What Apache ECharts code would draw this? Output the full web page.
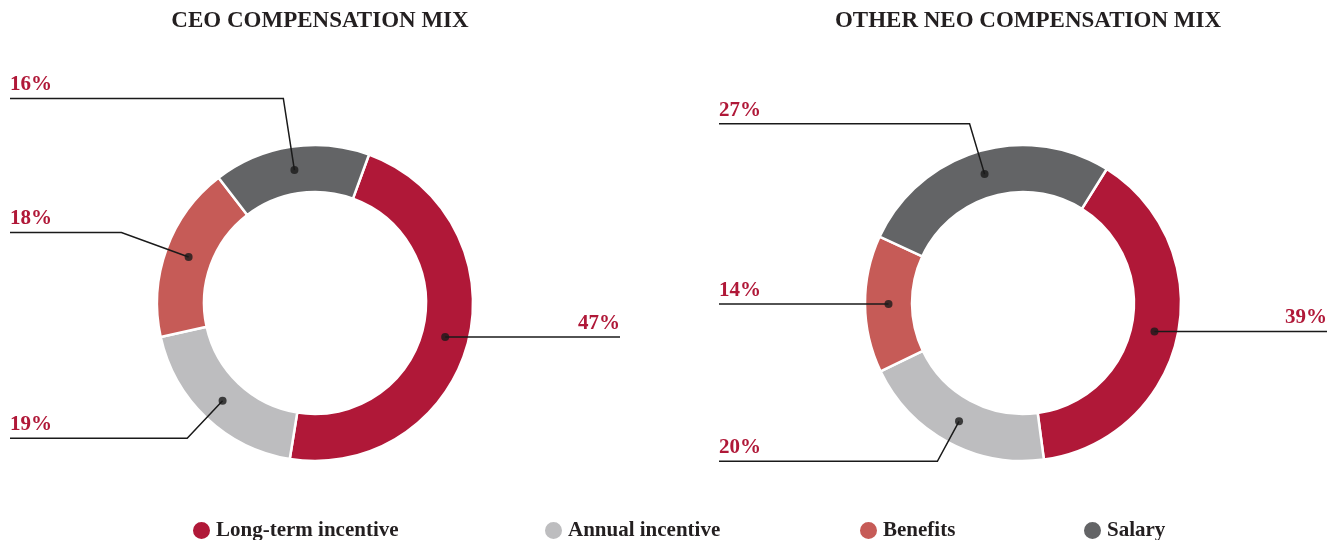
<!DOCTYPE html>
<html>
<head>
<meta charset="utf-8">
<script src="https://cdn.jsdelivr.net/npm/echarts@6/dist/echarts.min.js"></script>
<style>
html, body { margin: 0; padding: 0; background: #fff; }
#main { width: 1327px; height: 540px; }
</style>
</head>
<body>
<div id="main"></div>
<script>
// compensation mix, percent of total
const categories = ["Long-term incentive", "Annual incentive", "Benefits", "Salary"]
const ceoMix = [47, 19, 18, 16]
const neoMix = [39, 20, 14, 27]
const titles = ["CEO COMPENSATION MIX", "OTHER NEO COMPENSATION MIX"]

const colors = ["#b01838", "#bdbdbf", "#c65b57", "#636466"]
const red = "#b01838"
const serif = "'Liberation Serif', 'DejaVu Serif', serif"

// one box per donut, labels hug the box edges; leader elbow length per slice
const boxes = [
    { left: 0, width: 630, edge: 10, startAngle: 70, elbows: [30, 28, 48, 49] },
    { left: 719, width: 608, edge: 0, startAngle: 58, elbows: [30, 22, 30, 29] }
]
const legendLefts = [186, 538, 853, 1077]
const cy = 303, r0 = 111, r1 = 158
const rDot = (r0 + r1) / 2

function centerX(b) { return b.left + b.width / 2 }

// middle of each slice as [radius, percent of the ring]
function midPoints(values) {
    let total = values.reduce((a, b) => a + b, 0)
    let acc = 0
    return values.map(v => {
        let mid = (acc + v / 2) / total * 100
        acc += v
        return [rDot, mid]
    })
}

// start the leader line at the dot, run it under the label to the edge
function makeLayout(b) {
    let cx = centerX(b)
    return function (params) {
        let pts = params.labelLinePoints
        if (!pts) return {}
        let p0 = pts[0], p1 = pts[1]
        let dx = p0[0] - cx, dy = p0[1] - cy
        let len = Math.sqrt(dx * dx + dy * dy)
        let start = [cx + dx / len * rDot, cy + dy / len * rDot]
        let isLeft = p1[0] < cx
        let endX = isLeft ? b.left + b.edge : b.left + b.width - b.edge
        let line
        if (Math.abs(dy / len) < 0.3) {
            // nearly sideways: straight line from the dot
            p1 = [start[0], start[1]]
            line = [start, [endX, start[1]]]
        } else {
            line = [start, p1, [endX, p1[1]]]
        }
        return {
            x: endX,
            y: p1[1] - 3,
            align: isLeft ? "left" : "right",
            verticalAlign: "bottom",
            labelLinePoints: line
        }
    }
}

let mixes = [ceoMix, neoMix]
let chart = echarts.init(document.getElementById("main"))

function pieBase(b, i) {
    return {
        type: "pie",
        left: b.left,
        width: b.width,
        top: 0,
        height: 540,
        center: ["50%", cy],
        radius: [r0, r1],
        startAngle: b.startAngle,
        clockwise: true,
        emphasis: { disabled: true },
        data: categories.map((name, k) => ({
            name: name,
            value: mixes[i][k],
            itemStyle: { color: colors[k] }
        }))
    }
}

// coloured rings
let rings = boxes.map((b, i) => Object.assign(pieBase(b, i), {
    itemStyle: { borderColor: "#fff", borderWidth: 2.5 },
    label: { show: false },
    labelLine: { show: false },
    z: 2
}))

// same rings again, invisible, carrying labels and leader lines on top
let leaders = boxes.map((b, i) => {
    let s = pieBase(b, i)
    s.data = s.data.map((d, k) => Object.assign({}, d, {
        itemStyle: { color: "rgba(0,0,0,0)" },
        labelLine: { length: b.elbows[k] }
    }))
    return Object.assign(s, {
        silent: true,
        z: 4,
        label: {
            show: true,
            position: "outside",
            alignTo: "edge",
            edgeDistance: b.edge,
            formatter: p => p.value + "%",
            color: red,
            fontFamily: serif,
            fontWeight: "bold",
            fontSize: 21
        },
        labelLine: {
            show: true,
            length: 30,
            length2: 10,
            lineStyle: { color: "#1a1a1a", width: 1.5 }
        },
        labelLayout: makeLayout(b)
    })
})

let dots = boxes.map((b, i) => ({
    type: "scatter",
    coordinateSystem: "polar",
    polarIndex: i,
    data: midPoints(mixes[i]),
    symbolSize: 8,
    itemStyle: { color: "#1a1a1a" },
    silent: true,
    z: 5
}))

chart.setOption({
    animation: false,
    title: boxes.map((b, i) => ({
        text: titles[i],
        left: centerX(b),
        top: 5,
        textAlign: "center",
        textStyle: { fontFamily: serif, fontWeight: "bold", fontSize: 23, color: "#231f20" }
    })),
    polar: boxes.map(b => ({ center: [centerX(b), cy], radius: r1 })),
    angleAxis: boxes.map((b, i) => ({
        polarIndex: i, min: 0, max: 100, startAngle: b.startAngle, clockwise: true, show: false
    })),
    radiusAxis: boxes.map((b, i) => ({ polarIndex: i, min: 0, max: r1, show: false })),
    legend: categories.map((name, k) => ({
        data: [name],
        icon: "circle",
        left: legendLefts[k],
        top: 515,
        itemWidth: 19,
        itemHeight: 19,
        selectedMode: false,
        textStyle: { fontFamily: serif, fontWeight: "bold", fontSize: 21, color: "#231f20" }
    })),
    series: rings.concat(leaders, dots)
})
</script>
</body>
</html>
